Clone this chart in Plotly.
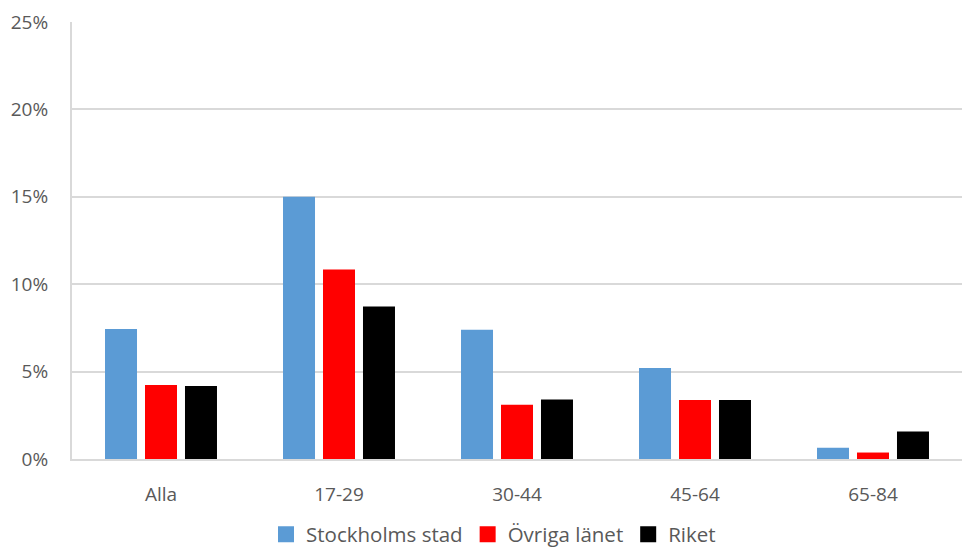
import plotly.graph_objects as go

kategorier = ["Alla", "17-29", "30-44", "45-64", "65-84"]
stockholm = [7.44, 15.0, 7.40, 5.21, 0.65]
ovriga = [4.24, 10.84, 3.11, 3.37, 0.37]
riket = [4.18, 8.72, 3.40, 3.37, 1.58]

serier = ["Stockholms stad", "Övriga länet", "Riket"]
farger = ["#5b9bd5", "#ff0000", "#000000"]

fig = go.Figure()
for namn, varden, farg in zip(serier, [stockholm, ovriga, riket], farger):
    fig.add_trace(go.Bar(x=kategorier, y=[v / 100 for v in varden], name=namn,
                         marker_color=farg, marker_line_width=0, showlegend=False))
# legend entries with bigger squares
for namn, farg in zip(serier, farger):
    fig.add_trace(go.Scatter(x=[None], y=[None], mode="markers", name=namn,
                             marker=dict(symbol="square", size=17, color=farg)))

fig.update_layout(
    width=962, height=551,
    margin=dict(l=72, r=0, t=22, b=92),
    plot_bgcolor="white", paper_bgcolor="white",
    font=dict(family="Open Sans", size=19, color="#595959"),
    barmode="group", bargap=0.326, bargroupgap=0.2,
    legend=dict(orientation="h", xref="container", yref="container",
                x=0.513, xanchor="center", y=0.03, yanchor="middle",
                font=dict(size=20.5), itemwidth=30, tracegroupgap=0),
)
fig.update_xaxes(showline=True, linecolor="#d9d9d9", linewidth=2,
                 ticks="", ticklabelstandoff=17, fixedrange=True)
fig.update_yaxes(range=[0, 0.25], dtick=0.05, tickformat=".0%",
                 showgrid=True, gridcolor="#d9d9d9", gridwidth=2,
                 showline=True, linecolor="#d9d9d9", linewidth=2,
                 zeroline=False, ticks="", ticklabelstandoff=18, fixedrange=True)

# drop the default 8px body margin so the figure fills the window
fig.write_html("out.html", config={"displayModeBar": False},
               post_script="document.body.style.margin='0';")
